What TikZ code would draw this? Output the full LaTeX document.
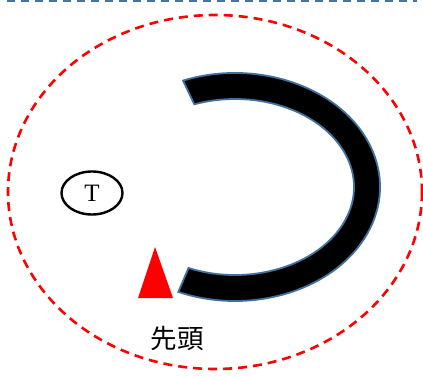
\documentclass[tikz,border=0pt]{standalone}
\usepackage{fontspec}
\newfontfamily\cjk{Noto Sans CJK JP}
\newfontfamily\tfont{Liberation Serif}
\usetikzlibrary{calc,shapes.geometric}
\definecolor{steel}{HTML}{4A74A0}
\definecolor{edgeblue}{HTML}{41719C}
\tikzset{
  topline/.style={draw=steel, line width=3pt, dash pattern=on 8pt off 6pt},
  zone/.style={draw=red, line width=2.6pt, dash pattern=on 9pt off 6pt},
  track/.style={fill=black, draw=edgeblue, line width=1.8pt, line join=miter},
  headmark/.style={fill=red, draw=none},
  tnode/.style={draw=black, line width=2.4pt, ellipse, minimum width=61pt, minimum height=43pt, inner sep=0pt, font=\tfont\fontsize{25}{25}\selectfont},
  label/.style={font=\cjk\fontsize{26.5}{27}\selectfont, inner sep=0pt}
}
\begin{document}
\begin{tikzpicture}[x=1pt,y=-1pt]
\useasboundingbox (0,0) rectangle (423,377);
\coordinate (l0) at (7,1);
\coordinate (l1) at (417,1);
\draw[topline] (l0) -- (l1);
\coordinate (zc) at (215,192);
\draw[zone] (zc) ellipse[x radius=207, y radius=177];
\coordinate (c) at (235,187);
\coordinate (os) at ($(c)+(-111:145 and 114)$);
\coordinate (ie) at ($(c)+(113:119 and 88)$);
\draw[track] (os) arc[start angle=-111, end angle=113, x radius=145, y radius=114] -- (ie) arc[start angle=113, end angle=-110, x radius=119, y radius=88] -- cycle;
\coordinate (ta) at (155,247);
\coordinate (tb) at (138,298);
\coordinate (tc) at (173,298);
\fill[headmark] (ta) -- (tb) -- (tc) -- cycle;
\node[tnode] (T) at (92,193) {T};
\node[label] (head) at (177,338) {先頭};
\end{tikzpicture}
\end{document}
